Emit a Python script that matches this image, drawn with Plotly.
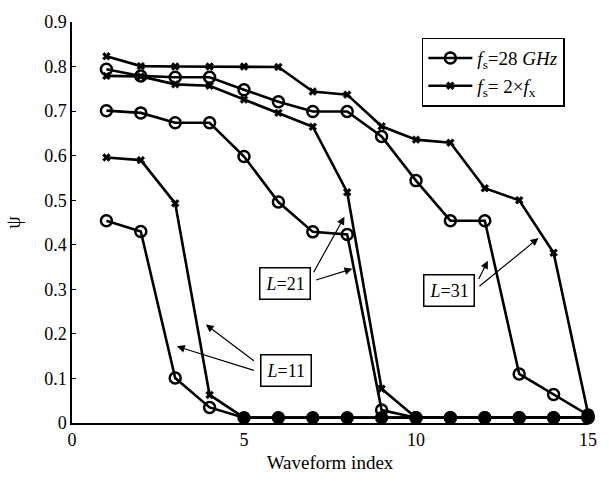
import plotly.graph_objects as go

waveform_index = list(range(1, 16))

# fs = 28 GHz (circles)
l11_circ = [0.454, 0.430, 0.101, 0.035, 0.012, 0.012, 0.012, 0.012, 0.012, 0.012, 0.012, 0.012, 0.012, 0.012, 0.012]
l21_circ = [0.701, 0.696, 0.674, 0.674, 0.598, 0.496, 0.429, 0.423, 0.029, 0.012, 0.012, 0.012, 0.012, 0.012, 0.012]
l31_circ = [0.794, 0.779, 0.776, 0.776, 0.748, 0.721, 0.699, 0.699, 0.643, 0.544, 0.454, 0.454, 0.110, 0.064, 0.018]

# fs = 2 x fx (crosses)
l11_x = [0.596, 0.590, 0.493, 0.063, 0.012, 0.012, 0.012, 0.012, 0.012, 0.012, 0.012, 0.012, 0.012, 0.012, 0.012]
l21_x = [0.779, 0.778, 0.760, 0.757, 0.726, 0.696, 0.665, 0.518, 0.077, 0.012, 0.012, 0.012, 0.012, 0.012, 0.012]
l31_x = [0.823, 0.801, 0.800, 0.800, 0.800, 0.799, 0.744, 0.737, 0.666, 0.636, 0.629, 0.527, 0.500, 0.382, 0.022]

x_ticks = [0, 5, 10, 15]
y_ticks = [0, 0.1, 0.2, 0.3, 0.4, 0.5, 0.6, 0.7, 0.8, 0.9]
y_tick_text = ["0", "0.1", "0.2", "0.3", "0.4", "0.5", "0.6", "0.7", "0.8", "0.9"]

legend_circ = "<i>f</i><sub>s</sub>=28 <i>GHz</i>"
legend_x = "<i>f</i><sub>s</sub>= 2×<i>f</i><sub>x</sub>"

FONT = "Liberation Serif, Times New Roman, serif"

fig = go.Figure()

def circ_trace(vals, show):
    symbols = ["circle" if v <= 0.015 else "circle-open" for v in vals]
    return go.Scatter(
        x=waveform_index, y=vals, mode="lines+markers",
        line=dict(color="black", width=2.6),
        marker=dict(symbol=symbols, size=11, color="black",
                    line=dict(color="black", width=2.5)),
        name=legend_circ, showlegend=show, cliponaxis=False,
    )

def x_trace(vals, show):
    return go.Scatter(
        x=waveform_index, y=vals, mode="lines+markers",
        line=dict(color="black", width=2.6),
        marker=dict(symbol="x", size=7, color="black",
                    line=dict(color="black", width=0.5)),
        name=legend_x, showlegend=show, cliponaxis=False,
    )

fig.add_trace(circ_trace(l31_circ, True))
fig.add_trace(circ_trace(l21_circ, False))
fig.add_trace(circ_trace(l11_circ, False))
fig.add_trace(x_trace(l31_x, True))
fig.add_trace(x_trace(l21_x, False))
fig.add_trace(x_trace(l11_x, False))

annotations = []

def box(xc, yc, label):
    annotations.append(dict(
        x=xc, y=yc, xref="x", yref="y", text=label, showarrow=False,
        font=dict(family=FONT, size=18, color="black"),
        bordercolor="black", borderwidth=1.5, borderpad=5, bgcolor="white",
    ))

def arrow(x0, y0, x1, y1):
    annotations.append(dict(
        x=x1, y=y1, ax=x0, ay=y0, xref="x", yref="y", axref="x", ayref="y",
        text="", showarrow=True, arrowhead=2, arrowsize=1.3, arrowwidth=1.2,
        arrowcolor="black",
    ))

# L = 11
arrow(5.33, 0.137, 3.89, 0.221)
arrow(5.33, 0.117, 3.05, 0.172)
box(6.22, 0.117, "<i>L</i>=11")
# L = 21
arrow(7.0, 0.335, 7.92, 0.463)
arrow(7.05, 0.320, 8.15, 0.346)
box(6.19, 0.313, "<i>L</i>=21")
# L = 31
arrow(11.8, 0.320, 12.09, 0.364)
arrow(11.8, 0.304, 13.56, 0.415)
box(10.97, 0.298, "<i>L</i>=31")

fig.update_layout(
    width=609, height=482,
    margin=dict(l=72, r=16, t=17, b=57),
    paper_bgcolor="white", plot_bgcolor="white",
    font=dict(family=FONT, size=17, color="black"),
    showlegend=True,
    legend=dict(
        x=0.678, y=0.961, xanchor="left", yanchor="top",
        bordercolor="black", borderwidth=1.5, bgcolor="white",
        font=dict(family=FONT, size=19, color="black"),
        tracegroupgap=6, itemwidth=44,
    ),
    annotations=annotations,
    xaxis=dict(
        range=[0, 15], tickvals=x_ticks, ticktext=[str(t) for t in x_ticks],
        showgrid=False, zeroline=False, showline=True, linecolor="black",
        linewidth=1.5, ticks="", ticklen=0,
        title=dict(text="Waveform index", font=dict(family=FONT, size=19), standoff=6),
        tickfont=dict(family=FONT, size=18),
    ),
    yaxis=dict(
        range=[0, 0.9], tickvals=y_ticks, ticktext=y_tick_text,
        showgrid=False, zeroline=False, showline=True, linecolor="black",
        linewidth=1.5, ticks="inside", ticklen=4, tickcolor="black",
        title=dict(text="ψ", font=dict(family=FONT, size=20), standoff=18),
        tickfont=dict(family=FONT, size=18),
    ),
)

fig.write_html("out.html")
